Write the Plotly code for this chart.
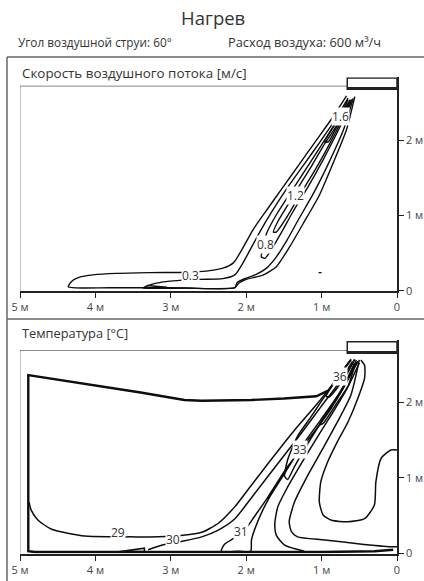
import plotly.graph_objects as go

# ---------------- data (x: metres from unit wall, y: height in metres) ----------------
x_ticks = [5, 4, 3, 2, 1, 0]
x_ticktext = ["5 м", "4 м", "3 м", "2 м", "1 м", "0"]
y_ticks = [0, 1, 2]
y_ticktext = ["0", "1 м", "2 м"]

# Top panel: air velocity isolines [m/s]
v03_x = [0.67, 0.85, 1.07, 1.29, 1.51, 1.73, 1.91, 2.06, 2.17, 2.31, 2.53, 2.79, 3.28, 3.72, 4.03, 4.21, 4.32, 4.36,
         3.80, 3.00, 2.15, 2.10, 2.00, 1.77, 1.60, 1.42, 1.24, 1.03, 0.85, 0.67, 0.56]
v03_y = [2.59, 2.31, 2.00, 1.69, 1.38, 1.07, 0.81, 0.54, 0.37, 0.30, 0.26, 0.245, 0.24, 0.23, 0.21, 0.18, 0.12, 0.05,
         0.04, 0.04, 0.04, 0.10, 0.15, 0.21, 0.32, 0.59, 0.90, 1.27, 1.69, 2.14, 2.58]
v05_x = [0.65, 0.82, 1.02, 1.24, 1.46, 1.66, 1.82, 1.95, 2.06, 2.15, 2.31, 2.62, 2.97, 3.19, 3.32, 3.37,
         2.80, 2.15, 2.12, 2.02, 1.86, 1.73, 1.60, 1.46, 1.31, 1.11, 0.91, 0.71, 0.58]
v05_y = [2.56, 2.27, 1.98, 1.67, 1.36, 1.05, 0.78, 0.54, 0.34, 0.21, 0.16, 0.15, 0.13, 0.10, 0.06, 0.035,
         0.035, 0.04, 0.11, 0.16, 0.22, 0.30, 0.45, 0.67, 0.94, 1.29, 1.69, 2.14, 2.56]
v08_x = [0.62, 0.80, 1.00, 1.20, 1.42, 1.60, 1.73, 1.77, 1.80, 1.75, 1.66, 1.53, 1.38, 1.18, 0.98, 0.80, 0.67, 0.60]
v08_y = [2.54, 2.25, 1.94, 1.63, 1.29, 1.01, 0.76, 0.59, 0.45, 0.43, 0.56, 0.78, 1.05, 1.38, 1.74, 2.09, 2.36, 2.54]
v12_x = [0.63, 0.80, 0.98, 1.15, 1.33, 1.46, 1.58, 1.64, 1.60, 1.46, 1.29, 1.09, 0.89, 0.73, 0.62]
v12_y = [2.51, 2.20, 1.92, 1.63, 1.34, 1.12, 0.92, 0.78, 0.78, 0.98, 1.27, 1.60, 1.96, 2.27, 2.50]
v16_x = [0.65, 0.76, 0.87, 0.96, 0.91, 0.82, 0.69, 0.60]
v16_y = [2.54, 2.31, 2.14, 1.98, 1.98, 2.14, 2.36, 2.54]
vfloor_x = [3.32, 3.06, 3.06, 3.32]
vfloor_y = [0.07, 0.045, 0.035, 0.035]
vdash_x = [1.04, 1.00]
vdash_y = [0.24, 0.24]

v_labels = ["1.6", "1.2", "0.8", "0.3"]
v_label_x = [0.75, 1.34, 1.75, 2.74]
v_label_y = [2.31, 1.26, 0.62, 0.20]

# Bottom panel: temperature isolines [°C]
t28_x = [0.92, 1.07, 1.50, 1.93, 2.59, 2.82, 3.40, 3.92, 4.50, 4.89, 4.89, 4.89, 4.80, 3.50, 2.00, 1.00, 0.30, 0.05]
t28_y = [2.15, 2.08, 2.05, 2.03, 2.02, 2.03, 2.13, 2.21, 2.30, 2.36, 1.20, 0.03, 0.02, 0.02, 0.02, 0.02, 0.03, 0.05]
t29_x = [0.61, 0.83, 1.05, 1.36, 1.71, 1.98, 2.15, 2.37, 2.59, 2.84, 3.17, 3.54, 3.79, 4.14, 4.58, 4.76, 4.85, 4.88]
t29_y = [2.56, 2.27, 1.99, 1.63, 1.19, 0.84, 0.62, 0.40, 0.28, 0.24, 0.22, 0.22, 0.22, 0.23, 0.32, 0.44, 0.57, 0.68]
t30_x = [0.59, 0.79, 1.01, 1.27, 1.58, 1.89, 2.15, 2.37, 2.59, 2.86, 3.12, 3.30]
t30_y = [2.54, 2.23, 1.94, 1.59, 1.19, 0.79, 0.46, 0.31, 0.22, 0.16, 0.11, 0.05]
t30w_x = [3.72, 3.35, 3.35, 3.72]
t30w_y = [0.02, 0.07, 0.03, 0.02]
t31_x = [0.56, 0.70, 0.92, 1.18, 1.45, 1.71, 1.89, 2.02, 2.15, 2.29, 2.33, 2.10, 1.94, 1.93, 1.84, 1.71, 1.49,
         1.27, 1.01, 0.79, 0.61, 0.52]
t31_y = [2.52, 2.21, 1.85, 1.50, 1.15, 0.75, 0.49, 0.31, 0.21, 0.12, 0.03, 0.03, 0.03, 0.18, 0.44, 0.71, 1.06,
         1.41, 1.77, 2.08, 2.38, 2.54]
t32_x = [0.54, 0.65, 0.83, 1.05, 1.27, 1.45, 1.58, 1.62, 1.60, 1.49, 1.23]
t32_y = [2.56, 2.21, 1.90, 1.55, 1.19, 0.88, 0.62, 0.40, 0.24, 0.11, 0.03]
t33_x = [0.63, 0.87, 1.14, 1.32, 1.45, 1.49, 1.45, 1.36, 1.18, 0.96, 0.74, 0.56]
t33_y = [2.54, 2.21, 1.81, 1.55, 1.24, 1.02, 0.98, 1.15, 1.46, 1.81, 2.16, 2.52]
t35_x = [0.52, 0.70, 0.87, 1.03, 0.98, 0.83, 0.65, 0.50]
t35_y = [2.54, 2.21, 1.94, 1.70, 1.72, 1.94, 2.21, 2.52]
t36_x = [0.61, 0.79, 0.94, 0.90, 0.70, 0.56]
t36_y = [2.57, 2.32, 2.08, 2.07, 2.32, 2.57]
t27_x = [0.50, 0.61, 0.79, 0.96, 1.18, 1.36, 1.43, 1.40, 1.32, 0.96, 0.52, 0.08, 0.0]
t27_y = [2.56, 2.10, 1.74, 1.43, 1.04, 0.68, 0.42, 0.29, 0.22, 0.18, 0.13, 0.09, 0.09]
t26_x = [0.48, 0.43, 0.43, 0.52, 0.65, 0.79, 0.92, 1.01, 1.03, 0.98, 0.87, 0.65, 0.43, 0.30, 0.28, 0.21, 0.08, 0.0]
t26_y = [2.56, 2.49, 2.32, 2.05, 1.74, 1.48, 1.21, 0.95, 0.68, 0.51, 0.44, 0.42, 0.46, 0.64, 0.95, 1.26, 1.37, 1.37]

t_labels = ["36", "33", "31", "30", "29"]
t_label_x = [0.76, 1.29, 2.07, 2.97, 3.70]
t_label_y = [2.34, 1.37, 0.29, 0.19, 0.28]

# ---------------- figure ----------------
W, H = 424, 581
X0, X1 = 20, 397          # pixel extent of the x axes
TOP_Y0, TOP_YMAX, TOP_SC = 290.7, 2.84, 75.2
BOT_Y0, BOT_YMAX, BOT_SC = 553.5, 2.82, 75.6

def pdom(y0px, ymax, sc):
    return [(H - y0px) / H, (H - (y0px - ymax * sc)) / H]

fig = go.Figure()
LINE = "#0d0d0d"

top_lines = [(v03_x, v03_y, 1.4, "spline"), (v05_x, v05_y, 1.4, "spline"), (v08_x, v08_y, 1.4, "spline"),
             (v12_x, v12_y, 1.4, "spline"), (v16_x, v16_y, 1.6, "spline"), (vfloor_x, vfloor_y, 1.6, "linear"),
             (vdash_x, vdash_y, 1.2, "linear")]
for xs, ys, w, sh in top_lines:
    fig.add_trace(go.Scatter(x=xs, y=ys, mode="lines", line=dict(color=LINE, width=w, shape=sh, smoothing=0.6),
                             xaxis="x", yaxis="y", showlegend=False, hoverinfo="skip"))

bot_lines = [(t28_x, t28_y, 2.4, "linear"), (t29_x, t29_y, 1.5, "spline"), (t30_x, t30_y, 1.5, "spline"),
             (t30w_x, t30w_y, 1.5, "linear"), (t31_x, t31_y, 1.5, "spline"), (t32_x, t32_y, 1.5, "spline"),
             (t33_x, t33_y, 1.5, "spline"), (t35_x, t35_y, 1.6, "spline"), (t36_x, t36_y, 1.8, "spline"),
             (t27_x, t27_y, 1.5, "spline"), (t26_x, t26_y, 1.5, "spline")]
for xs, ys, w, sh in bot_lines:
    fig.add_trace(go.Scatter(x=xs, y=ys, mode="lines", line=dict(color=LINE, width=w, shape=sh, smoothing=0.6),
                             xaxis="x2", yaxis="y2", showlegend=False, hoverinfo="skip"))

xdom = [X0 / W, X1 / W]
axis_font = dict(family="Open Sans, Noto Sans, sans-serif", size=11, color="#444")
common_x = dict(range=[5, 0], domain=xdom, tickvals=x_ticks, ticktext=x_ticktext, ticks="outside", ticklen=5,
                tickcolor="#222", showline=True, linecolor="#222", linewidth=2, showgrid=False, zeroline=False,
                tickfont=axis_font, fixedrange=True, automargin=False)
common_y = dict(side="right", tickvals=y_ticks, ticktext=y_ticktext, ticks="outside", ticklen=5, tickcolor="#222",
                showline=True, linecolor="#222", linewidth=1.5, showgrid=False, zeroline=False, tickfont=axis_font,
                fixedrange=True, automargin=False)

fig.update_layout(
    width=W, height=H, margin=dict(l=0, r=0, t=0, b=0, autoexpand=False),
    paper_bgcolor="white", plot_bgcolor="white",
    xaxis=dict(common_x, anchor="y"),
    yaxis=dict(common_y, anchor="x", range=[0, TOP_YMAX], domain=pdom(TOP_Y0, TOP_YMAX, TOP_SC)),
    xaxis2=dict(common_x, anchor="y2"),
    yaxis2=dict(common_y, anchor="x2", range=[0, BOT_YMAX], domain=pdom(BOT_Y0, BOT_YMAX, BOT_SC)),
)

shapes = []
# outer frame
fl = dict(color="#666", width=1.5)
shapes.append(dict(type="line", xref="paper", yref="paper", x0=7 / W, x1=7 / W, y0=0, y1=(H - 57) / H, line=fl))
shapes.append(dict(type="line", xref="paper", yref="paper", x0=7 / W, x1=1, y0=(H - 57) / H, y1=(H - 57) / H, line=fl))
shapes.append(dict(type="line", xref="paper", yref="paper", x0=7 / W, x1=1, y0=(H - 319) / H, y1=(H - 319) / H, line=fl))

for xr, yr, ceil, b0, b1 in [("x", "y", 2.72, 2.68, 2.83), ("x2", "y2", 2.685, 2.65, 2.80)]:
    wl = dict(color="#888", width=1)
    shapes.append(dict(type="line", xref=xr, yref=yr, x0=5, x1=0.66, y0=ceil, y1=ceil, line=wl))
    shapes.append(dict(type="line", xref=xr, yref=yr, x0=5, x1=5, y0=0, y1=ceil, line=wl))
    shapes.append(dict(type="rect", xref=xr, yref=yr, x0=0, x1=0.66, y0=b0, y1=b1, fillcolor="white",
                       line=dict(color="#222", width=1.5)))
    shapes.append(dict(type="line", xref=xr, yref=yr, x0=0, x1=0.66, y0=b0 + 0.01, y1=b0 + 0.01,
                       line=dict(color="#222", width=3)))
fig.update_layout(shapes=shapes)

txt = dict(family="Open Sans, Noto Sans, sans-serif", color="#333")
ann = [
    dict(text="Нагрев", x=213 / W, y=(H - 18) / H, xref="paper", yref="paper", showarrow=False,
         font=dict(txt, size=18.5), xanchor="center", yanchor="middle"),
    dict(text="Угол воздушной струи: 60°", x=16 / W, y=(H - 42) / H, xref="paper", yref="paper", showarrow=False,
         font=dict(txt, size=11.8), xanchor="left", yanchor="middle"),
    dict(text="Расход воздуха: 600 м³/ч", x=226 / W, y=(H - 42) / H, xref="paper", yref="paper", showarrow=False,
         font=dict(txt, size=12.8), xanchor="left", yanchor="middle"),
    dict(text="Скорость воздушного потока [м/с]", x=20 / W, y=(H - 73) / H, xref="paper", yref="paper",
         showarrow=False, font=dict(txt, size=13.4), xanchor="left", yanchor="middle"),
    dict(text="Температура [°C]", x=20 / W, y=(H - 333) / H, xref="paper", yref="paper",
         showarrow=False, font=dict(txt, size=12.8), xanchor="left", yanchor="middle"),
]
for t, xv, yv in zip(v_labels, v_label_x, v_label_y):
    ann.append(dict(text=t, x=xv, y=yv, xref="x", yref="y", showarrow=False, bgcolor="white", borderpad=0,
                    font=dict(txt, size=12)))
for t, xv, yv in zip(t_labels, t_label_x, t_label_y):
    ann.append(dict(text=t, x=xv, y=yv, xref="x2", yref="y2", showarrow=False, bgcolor="white", borderpad=0,
                    font=dict(txt, size=12)))
fig.update_layout(annotations=ann)

fig.write_html("out.html", config={"responsive": False, "displayModeBar": False},
               post_script="document.body.style.margin='0';document.body.style.overflow='hidden';")
